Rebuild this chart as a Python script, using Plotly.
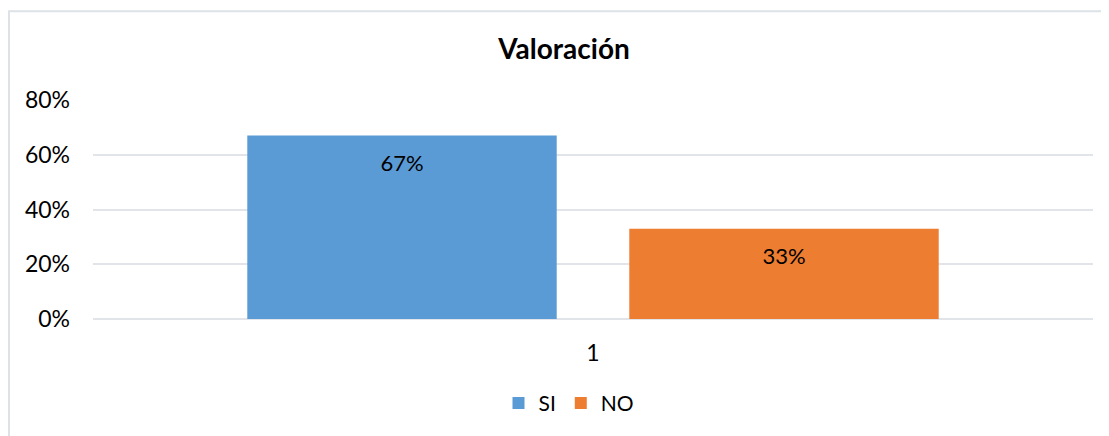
import plotly.graph_objects as go

# datos de la gráfica
categorias = ["1"]
serie_si = [0.67]
serie_no = [0.33]
nombres = ["SI", "NO"]
ticks_y = [0, 0.2, 0.4, 0.6, 0.8]
etiquetas_y = ["0%", "20%", "40%", "60%", "80%"]

fuente = "Lato, 'DejaVu Sans', sans-serif"
colores = ["#5B9BD5", "#ED7D31"]

fig = go.Figure()
for nombre, valores, color in zip(nombres, [serie_si, serie_no], colores):
    fig.add_trace(go.Bar(
        x=categorias,
        y=valores,
        name=nombre,
        marker=dict(color=color, line=dict(width=0)),
        hoverinfo="skip",
    ))

# etiquetas de datos (trazas de texto agrupadas igual que las barras)
for nombre, valores in zip(nombres, [serie_si, serie_no]):
    fig.add_trace(go.Scatter(
        x=categorias,
        y=valores,
        mode="markers+text",
        text=[f"{v:.0%}" for v in valores],
        textposition="bottom center",
        textfont=dict(family=fuente, size=22, color="#000000"),
        marker=dict(size=28, opacity=0),
        showlegend=False,
        hoverinfo="skip",
    ))

fig.update_layout(
    width=1101,
    height=428,
    margin=dict(l=85, r=16, t=92, b=115),
    paper_bgcolor="white",
    plot_bgcolor="white",
    barmode="group",
    bargap=0.236,
    bargroupgap=0.19,
    scattermode="group",
    scattergap=0.236,
    title=dict(
        text="<b>Valoración</b>",
        x=0.505,
        xanchor="center",
        y=0.903,
        yanchor="middle",
        font=dict(family=fuente, size=28, color="#000000"),
    ),
    xaxis=dict(
        type="category",
        showgrid=False,
        showline=False,
        ticks="",
        ticklabelstandoff=18,
        tickfont=dict(family=fuente, size=23, color="#000000"),
        automargin=False,
    ),
    yaxis=dict(
        range=[0, 0.8],
        tickvals=ticks_y,
        ticktext=etiquetas_y,
        showgrid=True,
        gridcolor="#E1E4E9",
        gridwidth=2,
        zeroline=True,
        zerolinecolor="#E1E4E9",
        zerolinewidth=2,
        ticks="",
        ticklabelstandoff=22,
        tickfont=dict(family=fuente, size=23, color="#000000"),
        automargin=False,
    ),
    legend=dict(
        orientation="h",
        x=0.476,
        xanchor="center",
        y=-0.385,
        yanchor="middle",
        font=dict(family=fuente, size=21, color="#000000"),
        itemwidth=30,
        traceorder="normal",
    ),
    showlegend=True,
)

# borde exterior del área del gráfico
fig.add_shape(
    type="rect",
    xref="paper", yref="paper",
    x0=-0.084, x1=1.1, y0=-0.6, y1=1.405,
    line=dict(color="#DDE1E8", width=2),
    fillcolor="rgba(0,0,0,0)",
    layer="below",
)

fig.write_html("out.html")
